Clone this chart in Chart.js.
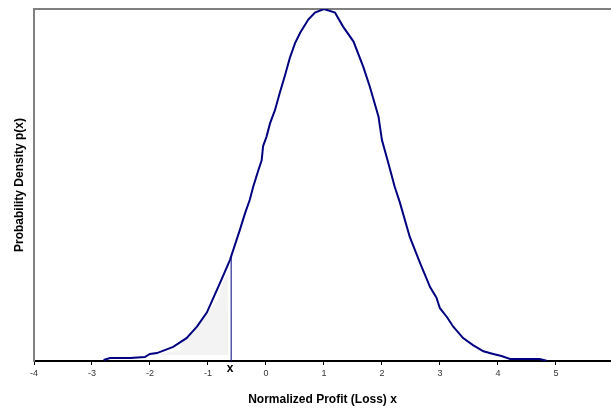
<!DOCTYPE html>
<html>
<head>
<meta charset="utf-8">
<script src="https://cdn.jsdelivr.net/npm/chart.js@4"></script>
<style>
  html, body { margin: 0; padding: 0; background: #fff; }
  #c { display: block; }
</style>
</head>
<body>
<canvas id="c" width="611" height="410"></canvas>
<script>
// Density curve
const curveX = [-2.8,-2.69,-2.34,-2.09,-2.0,-1.88,-1.6,-1.37,-1.19,-1.02,-0.79,-0.62,-0.45,-0.36,-0.28,-0.22,-0.13,-0.074,-0.05,0.01,0.07,0.155,0.24,0.33,0.41,0.5,0.59,0.73,0.845,1.0,1.19,1.33,1.51,1.68,1.79,1.94,2.0,2.11,2.22,2.31,2.48,2.66,2.83,2.94,3.0,3.12,3.23,3.4,3.57,3.75,3.92,4.06,4.21,4.72,4.84];
const curveY = [0.0011,0.0034,0.0034,0.0045,0.008,0.009,0.016,0.026,0.039,0.055,0.089,0.115,0.149,0.168,0.183,0.198,0.217,0.228,0.244,0.255,0.270,0.285,0.305,0.325,0.344,0.361,0.373,0.388,0.396,0.400,0.396,0.380,0.363,0.334,0.312,0.278,0.251,0.225,0.198,0.180,0.141,0.111,0.084,0.072,0.060,0.050,0.039,0.026,0.018,0.011,0.008,0.0057,0.0023,0.0023,0.0003];

// Shaded tail region (loss side)
const shadeX = [-1.95,-1.66,-1.48,-1.47,-1.22,-0.97,-0.83,-0.78,-0.66,-0.65];
const shadeY = [0.0068,0.0102,0.0125,0.020,0.035,0.058,0.069,0.081,0.101,0.0068];
const shadeBase = 0.0068;

// Marker line at x
const markerX = -0.6;
const markerY = [0, 0.118];
const markerLabel = 'x';

// Axis
const xMin = -4, xMax = 5.95;
const yMin = 0, yMax = 0.4;
const xTickValues = [-4,-3,-2,-1,0,1,2,3,4,5];
const xTitle = 'Normalized Profit (Loss) x';
const yTitle = 'Probability Density p(x)';

const zip = (xs, ys) => xs.map((x, i) => ({x, y: ys[i]}));

const markerLabelPlugin = {
  id: 'markerLabel',
  afterDraw(chart) {
    const {ctx, scales} = chart;
    const px = scales.x.getPixelForValue(markerX);
    const py = scales.x.top + 8;
    ctx.save();
    ctx.font = 'bold 12px "Liberation Sans", Arial, sans-serif';
    ctx.fillStyle = '#000';
    ctx.textAlign = 'center';
    ctx.textBaseline = 'middle';
    ctx.fillText(markerLabel, px - 1, py);
    ctx.restore();
  }
};

new Chart(document.getElementById('c'), {
  type: 'line',
  data: {
    datasets: [
      {
        data: zip(curveX, curveY),
        borderColor: '#000080',
        borderWidth: 2,
        pointRadius: 0,
        tension: 0,
        fill: false,
        order: 0
      },
      {
        data: [{x: markerX, y: markerY[0]}, {x: markerX, y: markerY[1]}],
        borderColor: '#000080',
        borderWidth: 1,
        pointRadius: 0,
        fill: false,
        order: 1
      },
      {
        data: zip(shadeX, shadeY),
        borderColor: 'rgba(0,0,0,0)',
        borderWidth: 0,
        backgroundColor: '#f3f3f3',
        pointRadius: 0,
        tension: 0,
        fill: {value: shadeBase},
        order: 2
      }
    ]
  },
  options: {
    responsive: false,
    animation: false,
    devicePixelRatio: 1,
    layout: {padding: 0},
    plugins: {legend: {display: false}, tooltip: {enabled: false}},
    scales: {
      x: {
        type: 'linear',
        position: 'bottom',
        min: xMin,
        max: xMax,
        afterBuildTicks: (s) => { s.ticks = xTickValues.map(v => ({value: v})); },
        afterFit: (s) => { s.height = 49; },
        ticks: {
          color: '#333',
          font: {family: '"Liberation Sans", Arial, sans-serif', size: 9},
          padding: 3,
          maxRotation: 0,
          autoSkip: false
        },
        grid: {display: true, drawOnChartArea: false, drawTicks: true, tickLength: 4, color: '#000', lineWidth: 1},
        border: {display: true, color: '#000', width: 2},
        title: {
          display: true,
          text: xTitle,
          color: '#000',
          font: {family: '"Liberation Sans", Arial, sans-serif', size: 12, weight: 'bold'},
          padding: {top: 0, bottom: 3}
        }
      },
      x2: {
        type: 'linear',
        position: 'top',
        min: xMin,
        max: xMax,
        afterFit: (s) => { s.height = 9; },
        ticks: {display: false},
        grid: {display: true, drawOnChartArea: false, drawTicks: false},
        border: {display: true, color: '#808080', width: 2}
      },
      y: {
        type: 'linear',
        min: yMin,
        max: yMax,
        afterFit: (s) => { s.width = 34; },
        ticks: {display: false},
        grid: {display: true, drawOnChartArea: false, drawTicks: false},
        border: {display: true, color: '#808080', width: 2},
        title: {
          display: true,
          text: yTitle,
          color: '#000',
          font: {family: '"Liberation Sans", Arial, sans-serif', size: 12, weight: 'bold'},
          padding: {top: 12, bottom: 0}
        }
      }
    }
  },
  plugins: [markerLabelPlugin]
});
</script>
</body>
</html>
